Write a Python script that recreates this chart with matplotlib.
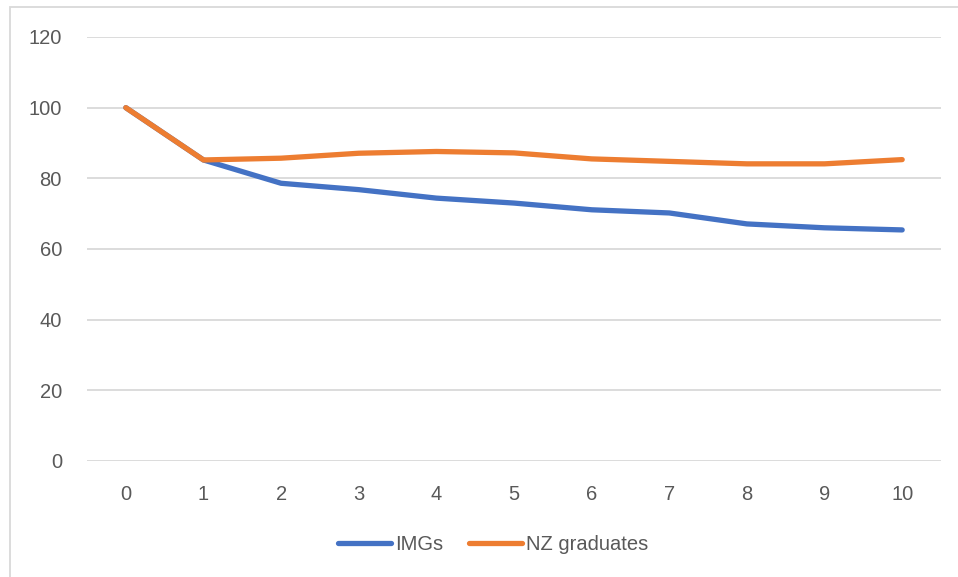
import matplotlib.pyplot as plt
from matplotlib.patches import Rectangle

years = list(range(11))
imgs = [100, 85.2, 78.6, 76.8, 74.4, 73.0, 71.1, 70.2, 67.1, 66.0, 65.4]
nz_grads = [100, 85.2, 85.7, 87.1, 87.6, 87.2, 85.5, 84.8, 84.1, 84.1, 85.3]
y_ticks = [0, 20, 40, 60, 80, 100, 120]

plt.rcParams['font.family'] = ['Liberation Sans', 'DejaVu Sans']
W, H = 958, 577
fig = plt.figure(figsize=(W / 100, H / 100), dpi=100)
ax = fig.add_axes([87 / W, 1 - 461 / H, (941 - 87) / W, (461 - 37) / H])

ax.plot(years, imgs, color='#4472C4', lw=3.8, solid_capstyle='round',
        solid_joinstyle='round', label='IMGs')
ax.plot(years, nz_grads, color='#ED7D31', lw=3.8, solid_capstyle='round',
        solid_joinstyle='round', label='NZ graduates')

ax.set_xlim(-0.5, 10.5)
ax.set_ylim(0, 120)
ax.set_xticks(years)
ax.set_yticks(y_ticks)
ax.grid(axis='y', color='#D9D9D9', lw=1.3)
ax.set_axisbelow(True)
for s in ax.spines.values():
    s.set_visible(False)
ax.tick_params(length=0, labelsize=14.5, labelcolor='#595959')
ax.tick_params(axis='y', pad=18)
ax.tick_params(axis='x', pad=17)

fig.legend(loc='center', bbox_to_anchor=(493 / W, 1 - 545 / H), ncol=2,
           frameon=False, fontsize=14.5, labelcolor='#595959',
           handlelength=2.65, handletextpad=0.2, columnspacing=1.25)

# chart area border
fig.add_artist(Rectangle((10 / W, -0.1), 1.2, 1 - 7 / H + 0.1,
                         transform=fig.transFigure, fill=False,
                         edgecolor='#D9D9D9', lw=1.3))

fig.savefig('out.png', dpi=100)
